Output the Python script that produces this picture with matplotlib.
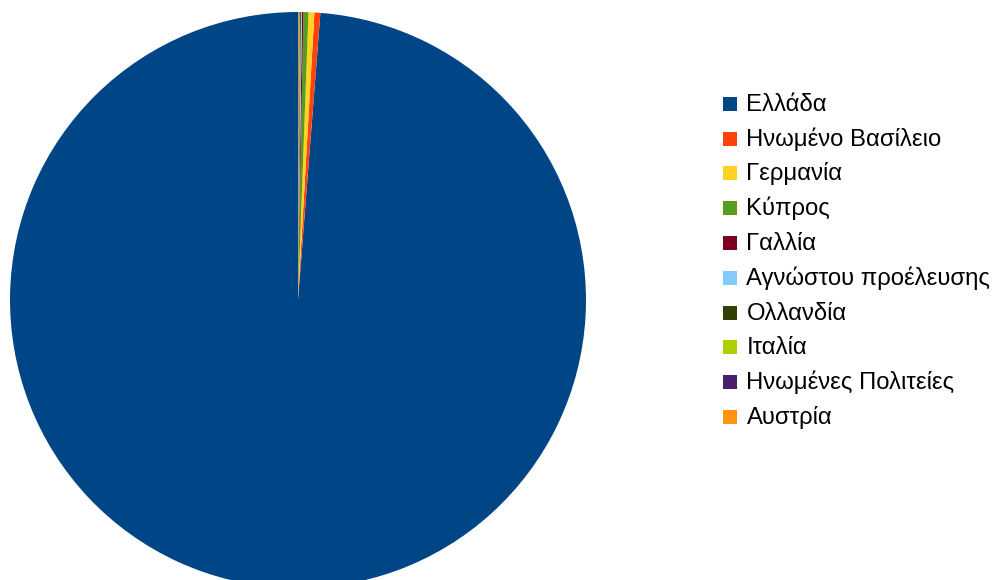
import matplotlib
matplotlib.use("Agg")
import matplotlib.pyplot as plt
from matplotlib.patches import Rectangle

labels = ["Ελλάδα", "Ηνωμένο Βασίλειο", "Γερμανία", "Κύπρος", "Γαλλία",
          "Αγνώστου προέλευσης", "Ολλανδία", "Ιταλία", "Ηνωμένες Πολιτείες", "Αυστρία"]
values = [98.76, 0.33, 0.33, 0.28, 0.08, 0.06, 0.05, 0.04, 0.04, 0.03]
colors = ["#004586", "#ff420e", "#ffd320", "#579d1c", "#7e0021",
          "#83caff", "#314004", "#aecf00", "#4b1f6f", "#ff950e"]

W, H = 993, 580
fig = plt.figure(figsize=(W / 100, H / 100), dpi=100)
cx, cy, r = 298, 300, 288
ax = fig.add_axes([(cx - r) / W, (H - cy - r) / H, 2 * r / W, 2 * r / H])
ax.pie(values, colors=colors, startangle=90, counterclock=True,
       wedgeprops=dict(linewidth=0), radius=1)
ax.set_xlim(-1, 1)
ax.set_ylim(-1, 1)
ax.set_aspect("equal")
ax.axis("off")

y0, dy = 103.8, 34.8
sq = 14
for i, (lab, col) in enumerate(zip(labels, colors)):
    y = y0 + i * dy
    fig.patches.append(Rectangle((722.5 / W, (H - y - sq / 2) / H), sq / W, sq / H,
                                 transform=fig.transFigure, facecolor=col,
                                 edgecolor="none"))
    fig.text(746.5 / W, (H - y - 7) / H, lab, fontsize=17.2, family="Liberation Sans",
             va="baseline", ha="left", color="#000000")

fig.savefig("out.png", dpi=100)
